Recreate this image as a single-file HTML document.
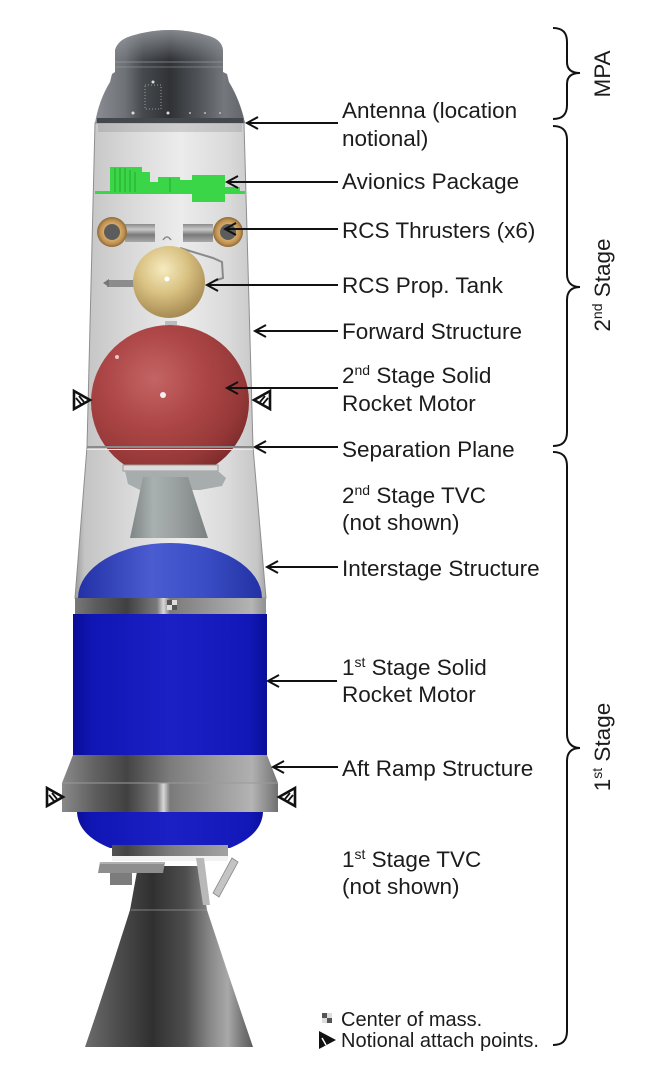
<!DOCTYPE html>
<html><head><meta charset="utf-8">
<style>
html,body{margin:0;padding:0;background:#fff;}
svg{display:block;}
text{font-family:"Liberation Sans",Arial,sans-serif;fill:#1c1c1c;}
</style></head><body>
<svg width="650" height="1070" viewBox="0 0 650 1070" xmlns="http://www.w3.org/2000/svg">
<defs>
 <linearGradient id="bodyG" gradientUnits="userSpaceOnUse" x1="75" y1="0" x2="267" y2="0">
  <stop offset="0" stop-color="#9c9c9c"/>
  <stop offset="0.05" stop-color="#c4c4c4"/>
  <stop offset="0.3" stop-color="#dadada"/>
  <stop offset="0.55" stop-color="#ececec"/>
  <stop offset="0.8" stop-color="#dadada"/>
  <stop offset="0.95" stop-color="#c6c6c6"/>
  <stop offset="1" stop-color="#a0a0a0"/>
 </linearGradient>
 <linearGradient id="capG" gradientUnits="userSpaceOnUse" x1="95" y1="0" x2="245" y2="0">
  <stop offset="0" stop-color="#8a8e94"/>
  <stop offset="0.2" stop-color="#6e7277"/>
  <stop offset="0.32" stop-color="#46494d"/>
  <stop offset="0.5" stop-color="#303235"/>
  <stop offset="0.68" stop-color="#4e5156"/>
  <stop offset="0.86" stop-color="#74787d"/>
  <stop offset="1" stop-color="#62666a"/>
 </linearGradient>
 <linearGradient id="capTop" x1="0" y1="0" x2="0" y2="1">
  <stop offset="0" stop-color="#9ea2a8" stop-opacity="0.75"/>
  <stop offset="1" stop-color="#9ea2a8" stop-opacity="0"/>
 </linearGradient>
 <radialGradient id="redG" cx="0.4" cy="0.35" r="0.7">
  <stop offset="0" stop-color="#c46464"/>
  <stop offset="0.45" stop-color="#ad4646"/>
  <stop offset="0.8" stop-color="#963838"/>
  <stop offset="1" stop-color="#7a2a2a"/>
 </radialGradient>
 <radialGradient id="goldG" cx="0.42" cy="0.32" r="0.7">
  <stop offset="0" stop-color="#f6ebc0"/>
  <stop offset="0.5" stop-color="#d8c080"/>
  <stop offset="1" stop-color="#a48850"/>
 </radialGradient>
 <radialGradient id="ringG" cx="0.5" cy="0.5" r="0.5">
  <stop offset="0.5" stop-color="#d8b070"/>
  <stop offset="0.8" stop-color="#c09050"/>
  <stop offset="1" stop-color="#8a6a38"/>
 </radialGradient>
 <linearGradient id="barG" x1="0" y1="0" x2="0" y2="1">
  <stop offset="0" stop-color="#8a8a8a"/>
  <stop offset="0.3" stop-color="#c8c8c8"/>
  <stop offset="0.6" stop-color="#7a7a7a"/>
  <stop offset="1" stop-color="#a8a8a8"/>
 </linearGradient>
 <linearGradient id="domeG" gradientUnits="userSpaceOnUse" x1="78" y1="0" x2="262" y2="0">
  <stop offset="0" stop-color="#2232a6"/>
  <stop offset="0.4" stop-color="#4a5cd0"/>
  <stop offset="0.7" stop-color="#3a4cc4"/>
  <stop offset="1" stop-color="#2232a4"/>
 </linearGradient>
 <linearGradient id="blueG" gradientUnits="userSpaceOnUse" x1="73" y1="0" x2="267" y2="0">
  <stop offset="0" stop-color="#0a0d96"/>
  <stop offset="0.1" stop-color="#1016b4"/>
  <stop offset="0.5" stop-color="#1a20c4"/>
  <stop offset="0.9" stop-color="#1218b8"/>
  <stop offset="1" stop-color="#0a0e9a"/>
 </linearGradient>
 <linearGradient id="grayG" gradientUnits="userSpaceOnUse" x1="62" y1="0" x2="278" y2="0">
  <stop offset="0" stop-color="#8a8a8a"/>
  <stop offset="0.15" stop-color="#5e5e5e"/>
  <stop offset="0.3" stop-color="#404040"/>
  <stop offset="0.44" stop-color="#7a7a7a"/>
  <stop offset="0.47" stop-color="#d8d8d8"/>
  <stop offset="0.5" stop-color="#7a7a7a"/>
  <stop offset="0.72" stop-color="#9c9c9c"/>
  <stop offset="0.88" stop-color="#b4b4b4"/>
  <stop offset="1" stop-color="#707070"/>
 </linearGradient>
 <linearGradient id="grayG2" gradientUnits="userSpaceOnUse" x1="62" y1="0" x2="278" y2="0">
  <stop offset="0" stop-color="#8a8a8a"/>
  <stop offset="0.15" stop-color="#626262"/>
  <stop offset="0.3" stop-color="#444"/>
  <stop offset="0.5" stop-color="#7c7c7c"/>
  <stop offset="0.72" stop-color="#9c9c9c"/>
  <stop offset="0.88" stop-color="#b0b0b0"/>
  <stop offset="1" stop-color="#747474"/>
 </linearGradient>
 <linearGradient id="nozG" gradientUnits="userSpaceOnUse" x1="85" y1="0" x2="253" y2="0">
  <stop offset="0" stop-color="#6c6c6c"/>
  <stop offset="0.2" stop-color="#4c4c4c"/>
  <stop offset="0.4" stop-color="#303030"/>
  <stop offset="0.6" stop-color="#4e4e4e"/>
  <stop offset="0.75" stop-color="#8a8a8a"/>
  <stop offset="0.85" stop-color="#a8a8a8"/>
  <stop offset="0.93" stop-color="#7a7a7a"/>
  <stop offset="1" stop-color="#5a5a5a"/>
 </linearGradient>
 <linearGradient id="n2G" gradientUnits="userSpaceOnUse" x1="130" y1="0" x2="208" y2="0">
  <stop offset="0" stop-color="#7f8585"/>
  <stop offset="0.3" stop-color="#a9b0b0"/>
  <stop offset="0.6" stop-color="#9aa0a0"/>
  <stop offset="1" stop-color="#7a8080"/>
 </linearGradient>
 <clipPath id="redClip"><rect x="0" y="0" width="650" height="466"/></clipPath>
 <g id="tri">
  <polygon points="0,-9 16,0 0,9" fill="#fff" stroke="#111" stroke-width="2.6" stroke-linejoin="miter"/>
  <line x1="2" y1="-2" x2="7" y2="4" stroke="#111" stroke-width="1.8"/>
  <line x1="5" y1="-4" x2="10" y2="2" stroke="#111" stroke-width="1.8"/>
 </g>
 <g id="com">
  <rect x="-5" y="-5" width="5" height="5" fill="#555"/>
  <rect x="0" y="0" width="5" height="5" fill="#555"/>
  <rect x="0" y="-5" width="5" height="5" fill="#ddd"/>
  <rect x="-5" y="0" width="5" height="5" fill="#ddd"/>
 </g>
</defs>

<rect width="650" height="1070" fill="#fff"/>

<!-- body shell -->
<path d="M95 123 L244 123 L253 447 L87 447 Z" fill="url(#bodyG)" stroke="#8e8e8e" stroke-width="1"/>
<path d="M87 447 L253 447 L266 598 L75 598 Z" fill="url(#bodyG)" stroke="#8e8e8e" stroke-width="1"/>
<rect x="98" y="124" width="144" height="8" fill="#8a8a8a" opacity="0.3"/>

<!-- nose cap -->
<path d="M95 123 Q99 100 110 82 L112 74 L115 72 L115 50 Q118 40 131 36 Q170 24 209 36 Q222 40 223 50 L223 72 L227 74 L229 82 Q240 100 245 123 Z" fill="url(#capG)"/>
<path d="M115 50 Q118 40 131 36 Q170 24 209 36 Q222 40 223 50 L223 60 L115 60 Z" fill="url(#capTop)"/>
<line x1="115" y1="62" x2="223" y2="62" stroke="#a2a6ac" stroke-width="1" opacity="0.6"/>
<line x1="115" y1="67" x2="223" y2="67" stroke="#a2a6ac" stroke-width="1" opacity="0.5"/>
<rect x="145" y="85" width="16" height="24" fill="none" stroke="#999" stroke-width="1" stroke-dasharray="1 2"/>
<circle cx="153" cy="82" r="1.5" fill="#ddd"/>
<circle cx="133" cy="113" r="1.5" fill="#ddd"/>
<circle cx="168" cy="113" r="1.5" fill="#ddd"/>
<circle cx="190" cy="113" r="1" fill="#bbb"/>
<circle cx="205" cy="113" r="1" fill="#bbb"/>
<circle cx="220" cy="113" r="1" fill="#bbb"/>
<rect x="97" y="118" width="146" height="5" fill="#44474b"/>

<!-- avionics -->
<g fill="#3ad648">
 <rect x="95" y="191" width="150" height="3"/>
 <rect x="110" y="167" width="32" height="26"/>
 <rect x="142" y="172" width="8" height="21"/>
 <rect x="150" y="182" width="8" height="11"/>
 <rect x="158" y="177" width="22" height="16"/>
 <rect x="180" y="180" width="12" height="13"/>
 <rect x="192" y="175" width="33" height="27"/>
 <rect x="225" y="187" width="15" height="6"/>
</g>
<g stroke="#24a832" stroke-width="1">
 <line x1="115" y1="168" x2="115" y2="192"/>
 <line x1="120" y1="168" x2="120" y2="192"/>
 <line x1="125" y1="168" x2="125" y2="192"/>
 <line x1="130" y1="170" x2="130" y2="192"/>
 <line x1="135" y1="172" x2="135" y2="192"/>
 <line x1="170" y1="178" x2="170" y2="192"/>
</g>

<!-- RCS thrusters -->
<rect x="125" y="224" width="30" height="18" fill="url(#barG)"/>
<rect x="183" y="224" width="30" height="18" fill="url(#barG)"/>
<path d="M163 240 q4 -6 8 0" fill="none" stroke="#888" stroke-width="1.5"/>
<circle cx="112" cy="232" r="15" fill="url(#ringG)"/>
<circle cx="112" cy="232" r="8" fill="#5c5c5c"/>
<circle cx="228" cy="232" r="15" fill="url(#ringG)"/>
<circle cx="228" cy="232" r="8" fill="#5c5c5c"/>

<!-- RCS prop tank -->
<rect x="107" y="280" width="27" height="7" fill="#8c8c8c"/>
<polygon points="103,283 109,279 109,287" fill="#777"/>
<path d="M180 248 L213 258 L222 262 L223 278 L214 281" fill="none" stroke="#8a8a8a" stroke-width="2"/>
<circle cx="169" cy="282" r="36" fill="url(#goldG)"/>
<circle cx="167" cy="279" r="2.5" fill="#fff"/>

<!-- 2nd stage SRM -->
<ellipse cx="170" cy="402" rx="79" ry="77" fill="url(#redG)" clip-path="url(#redClip)"/>
<circle cx="163" cy="395" r="3" fill="#fff" opacity="0.9"/>
<circle cx="117" cy="357" r="2" fill="#fff" opacity="0.7"/>
<rect x="165" y="321" width="12" height="4" fill="#bbb"/>
<line x1="87" y1="447" x2="253" y2="447" stroke="#8a8a8a" stroke-width="2"/>
<line x1="87" y1="449.5" x2="253" y2="449.5" stroke="#eaeaea" stroke-width="1"/>

<!-- 2nd stage mount + nozzle -->
<rect x="123" y="465" width="95" height="6" fill="#dcdcdc" stroke="#9a9a9a" stroke-width="1"/>
<path d="M125 471 L218 471 L226 478 L222 486 L200 490 L140 490 L128 484 Z" fill="#a7acac"/>
<path d="M143 477 L188 477 L208 538 L130 538 Z" fill="url(#n2G)"/>

<!-- 1st stage dome -->
<path d="M78 598 A92 55 0 0 1 262 598 Z" fill="url(#domeG)"/>
<!-- band -->
<rect x="75" y="598" width="191" height="16" fill="url(#grayG)"/>
<use href="#com" x="172" y="605"/>
<!-- blue cylinder -->
<rect x="73" y="614" width="194" height="141" fill="url(#blueG)"/>
<!-- aft ramp -->
<path d="M73 755 L267 755 L278 783 L62 783 Z" fill="url(#grayG2)"/>
<rect x="62" y="783" width="216" height="29" fill="url(#grayG)"/>
<line x1="62" y1="783" x2="278" y2="783" stroke="#9a9a9a" stroke-width="1"/>
<!-- lower dome -->
<path d="M77 812 L263 812 Q262 835 230 848 L110 848 Q78 835 77 812 Z" fill="url(#blueG)"/>
<!-- nozzle mount -->
<rect x="112" y="845" width="116" height="11" fill="url(#grayG2)"/>
<rect x="112" y="856" width="116" height="5" fill="#f2f2f2"/>
<!-- nozzle -->
<path d="M138 866 L200 866 L207 910 Q230 980 253 1047 L85 1047 Q108 980 130 910 Z" fill="url(#nozG)"/>
<line x1="131" y1="910" x2="207" y2="910" stroke="#999" stroke-width="0.8"/>
<path d="M100 862 L165 862 L163 873 L98 873 Z" fill="#8e8e8e"/>
<rect x="100" y="862" width="65" height="2" fill="#b0b0b0"/>
<rect x="110" y="873" width="22" height="12" fill="#7c7c7c"/>
<path d="M196 858 L204 858 L210 905 L203 905 Z" fill="#b8b8b8"/>
<path d="M232 858 L238 862 L219 897 L213 893 Z" fill="#c4c4c4" stroke="#888" stroke-width="0.8"/>

<!-- attach points -->
<use href="#tri" transform="translate(74,400)"/>
<use href="#tri" transform="translate(270,400) scale(-1,1)"/>
<use href="#tri" transform="translate(47,797)"/>
<use href="#tri" transform="translate(295,797) scale(-1,1)"/>

<!-- arrows -->
<g stroke="#111" stroke-width="2" fill="none">
 <path d="M247 123 L338 123 M258 117 L247 123 L258 129"/>
 <path d="M227 182 L338 182 M238 176 L227 182 L238 188"/>
 <path d="M225 229 L338 229 M236 223 L225 229 L236 235"/>
 <path d="M207 285 L338 285 M218 279 L207 285 L218 291"/>
 <path d="M255 331 L338 331 M266 325 L255 331 L266 337"/>
 <path d="M227 388 L338 388 M238 382 L227 388 L238 394"/>
 <path d="M255 447 L338 447 M266 441 L255 447 L266 453"/>
 <path d="M267 567 L338 567 M278 561 L267 567 L278 573"/>
 <path d="M268 681 L337 681 M279 675 L268 681 L279 687"/>
 <path d="M273 767 L338 767 M284 761 L273 767 L284 773"/>
</g>

<!-- labels -->
<g font-size="22.5">
 <text x="342" y="118">Antenna (location</text>
 <text x="342" y="146">notional)</text>
 <text x="342" y="189">Avionics Package</text>
 <text x="342" y="238">RCS Thrusters (x6)</text>
 <text x="342" y="293">RCS Prop. Tank</text>
 <text x="342" y="339">Forward Structure</text>
 <text x="342" y="383">2<tspan dy="-8" font-size="14">nd</tspan><tspan dy="8"> Stage Solid</tspan></text>
 <text x="342" y="411">Rocket Motor</text>
 <text x="342" y="457">Separation Plane</text>
 <text x="342" y="503">2<tspan dy="-8" font-size="14">nd</tspan><tspan dy="8"> Stage TVC</tspan></text>
 <text x="342" y="530">(not shown)</text>
 <text x="342" y="576">Interstage Structure</text>
 <text x="342" y="675">1<tspan dy="-8" font-size="14">st</tspan><tspan dy="8"> Stage Solid</tspan></text>
 <text x="342" y="702">Rocket Motor</text>
 <text x="342" y="776">Aft Ramp Structure</text>
 <text x="342" y="867">1<tspan dy="-8" font-size="14">st</tspan><tspan dy="8"> Stage TVC</tspan></text>
 <text x="342" y="894">(not shown)</text>
 <text transform="translate(610,74) rotate(-90)" text-anchor="middle">MPA</text>
 <text transform="translate(610,285) rotate(-90)" text-anchor="middle">2<tspan dy="-8" font-size="14">nd</tspan><tspan dy="8"> Stage</tspan></text>
 <text transform="translate(610,747) rotate(-90)" text-anchor="middle">1<tspan dy="-8" font-size="14">st</tspan><tspan dy="8"> Stage</tspan></text>
</g>

<!-- braces -->
<g stroke="#111" stroke-width="2" fill="none">
 <path d="M553 28 C562 28 567 32 567 42 L567 62 C567 70 572 73 580 73 C572 73 567 76 567 84 L567 105 C567 115 562 119 553 119"/>
 <path d="M553 126 C562 126 567 130 567 140 L567 274 C567 283 572 287 580 287 C572 287 567 291 567 300 L567 432 C567 442 562 446 553 446"/>
 <path d="M553 452 C562 452 567 456 567 466 L567 734 C567 743 572 748 580 748 C572 748 567 752 567 761 L567 1031 C567 1041 562 1045 553 1045"/>
</g>

<!-- legend -->
<use href="#com" x="327" y="1018"/>
<polygon points="319,1031 336,1040 319,1049" fill="#111"/>
<line x1="322" y1="1038" x2="326" y2="1045" stroke="#fff" stroke-width="1.5"/>
<g font-size="20">
 <text x="341" y="1026">Center of mass.</text>
 <text x="341" y="1047">Notional attach points.</text>
</g>
</svg>
</body></html>
